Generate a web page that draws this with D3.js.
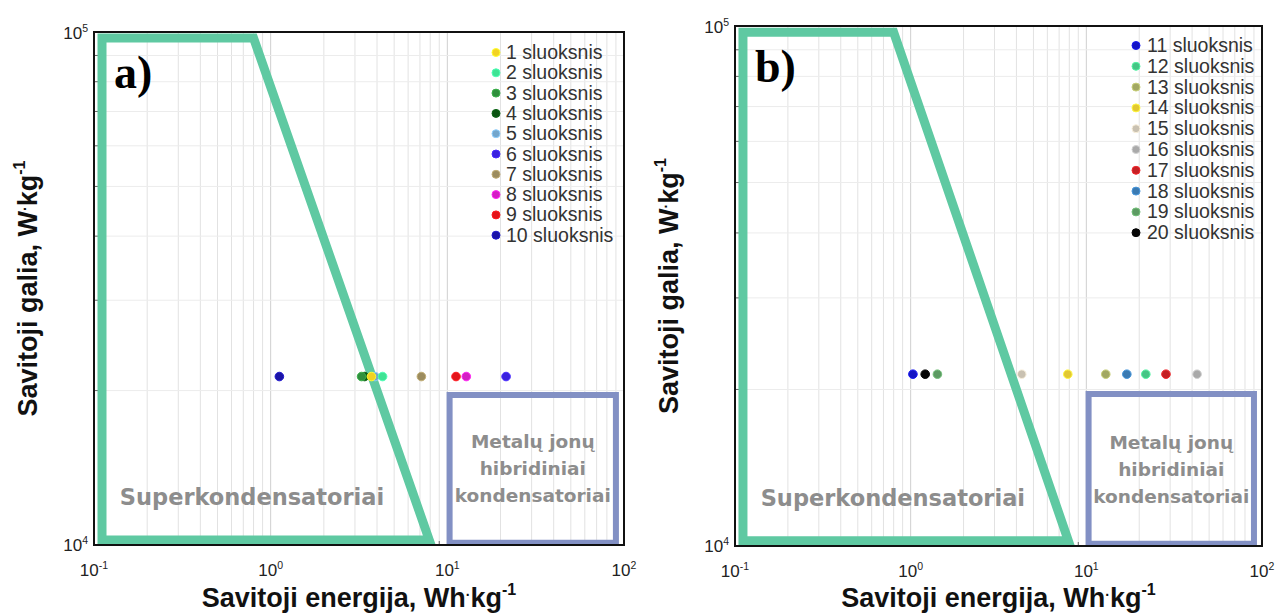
<!DOCTYPE html>
<html><head><meta charset="utf-8">
<script src="https://cdn.jsdelivr.net/npm/d3@7"></script>
<style>body{margin:0;background:#fff;}svg{display:block;}</style>
</head><body>
<svg id="c" width="1281" height="614"></svg>
<script>
// ---- data ----
const seriesA = ["1 sluoksnis","2 sluoksnis","3 sluoksnis","4 sluoksnis","5 sluoksnis","6 sluoksnis","7 sluoksnis","8 sluoksnis","9 sluoksnis","10 sluoksnis"];
const energyA = [3.72, 4.3, 3.27, 3.4, 3.9, 21.5, 7.13, 12.8, 11.2, 1.12];
const powerA  = [21300,21300,21300,21300,21300,21300,21300,21300,21300,21300];
const colorsA = ["#f2d224","#3fe394","#2f8f3c","#0c5413","#73a6cc","#3a22de","#9c8c5e","#d41ec4","#e3141a","#1b14a6"];

const seriesB = ["11 sluoksnis","12 sluoksnis","13 sluoksnis","14 sluoksnis","15 sluoksnis","16 sluoksnis","17 sluoksnis","18 sluoksnis","19 sluoksnis","20 sluoksnis"];
const energyB = [1.03, 21.8, 12.9, 7.84, 4.29, 42.7, 28.4, 17.0, 1.42, 1.21];
const powerB  = [21400,21400,21400,21400,21400,21400,21400,21400,21400,21400];
const colorsB = ["#1414c4","#45c585","#a2a862","#e2c832","#c9c1b1","#a9a9a9","#c42024","#3a7ab2","#5c9a62","#050505"];

// region outlines (data space)
const superE = [0.111, 0.80, 7.9, 0.111];
const superP = [97300, 97300, 10230, 10230];
const hybridE = [10.3, 90, 90, 10.3];
const hybridP = [19600, 19600, 10100, 10100];

const xTicks = [0.1, 1, 10, 100];
const xTickExp = ["-1","0","1","2"];
const yTicks = [10000, 100000];
const yTickExp = ["4","5"];

const xTitle = "Savitoji energija, Wh";
const yTitle = "Savitoji galia, W";
const superLabel = "Superkondensatoriai";
const hybridLabel = ["Metalų jonų","hibridiniai","kondensatoriai"];

const svg = d3.select("#c");

function panel(o){
  const g = svg.append("g");
  const x = d3.scaleLog().domain([0.1,100]).range([o.x0,o.x1]);
  const y = d3.scaleLog().domain([10000,100000]).range([o.y1,o.y0]);
  // grid
  const minorX = [];
  for (let d=0.1; d<100; d*=10) for (let k=2;k<=9;k++) minorX.push(d*k);
  g.selectAll(".gx").data(minorX).join("line")
    .attr("x1",d=>x(d)).attr("x2",d=>x(d)).attr("y1",o.y0).attr("y2",o.y1)
    .attr("stroke","#e2e2e2").attr("stroke-width",1);
  g.selectAll(".gX").data([1,10]).join("line")
    .attr("x1",d=>x(d)).attr("x2",d=>x(d)).attr("y1",o.y0).attr("y2",o.y1)
    .attr("stroke","#cfcfcf").attr("stroke-width",1);
  const minorY = d3.range(2,10).map(k=>k*10000);
  g.selectAll(".gy").data(minorY).join("line")
    .attr("y1",d=>y(d)).attr("y2",d=>y(d)).attr("x1",o.x0).attr("x2",o.x1)
    .attr("stroke","#ececec").attr("stroke-width",1);
  // minor ticks on axes
  g.selectAll(".tx").data(minorX).join("line")
    .attr("x1",d=>x(d)).attr("x2",d=>x(d)).attr("y1",o.y1).attr("y2",o.y1-4)
    .attr("stroke","#444").attr("stroke-width",0.8);
  g.selectAll(".ty").data(minorY).join("line")
    .attr("y1",d=>y(d)).attr("y2",d=>y(d)).attr("x1",o.x0).attr("x2",o.x0+4)
    .attr("stroke","#444").attr("stroke-width",0.8);

  // regions
  const line = d3.line().x(d=>x(d[0])).y(d=>y(d[1]));
  g.append("path").datum(d3.zip(hybridE,hybridP))
    .attr("d", d=>line(d)+"Z").attr("fill","none")
    .attr("stroke","#8290c4").attr("stroke-width",6).attr("stroke-linejoin","miter");
  g.append("path").datum(d3.zip(superE,superP))
    .attr("d", d=>line(d)+"Z").attr("fill","none")
    .attr("stroke","#5fc9a2").attr("stroke-width",9).attr("stroke-linejoin","miter");

  // region labels
  g.append("text").attr("x",x(0.14)).attr("y",o.y1-40)
    .attr("font-family","DejaVu Sans").attr("font-weight","bold").attr("font-size",22.5)
    .attr("fill","#8d8d8d").text(superLabel);
  const cx = (x(hybridE[0])+x(hybridE[1]))/2;
  g.selectAll(".hl").data(hybridLabel).join("text")
    .attr("x",cx).attr("y",(d,i)=>o.y1-97+i*27)
    .attr("text-anchor","middle").attr("font-family","DejaVu Sans").attr("font-weight","bold")
    .attr("font-size",18.5).attr("fill","#8d8d8d").text(d=>d);

  // points
  const idx = d3.range(o.energy.length).reverse();
  g.selectAll(".pt").data(idx).join("circle")
    .attr("cx",i=>x(o.energy[i])).attr("cy",i=>y(o.power[i])).attr("r",4.3)
    .attr("fill",i=>o.colors[i]).attr("stroke",i=>d3.color(o.colors[i]).brighter(0.6)).attr("stroke-width",1);

  // frame
  g.append("rect").attr("x",o.x0).attr("y",o.y0).attr("width",o.x1-o.x0).attr("height",o.y1-o.y0)
    .attr("fill","none").attr("stroke","#111").attr("stroke-width",2);

  // legend
  const lg = g.selectAll(".lg").data(o.series).join("g")
    .attr("transform",(d,i)=>`translate(${o.lx},${o.ly+i*o.lstep})`);
  lg.append("circle").attr("r",4).attr("cx",0).attr("cy",-6.5)
    .attr("fill",(d,i)=>o.colors[i]).attr("stroke",(d,i)=>d3.color(o.colors[i]).brighter(0.6)).attr("stroke-width",1);
  lg.append("text").attr("x",o.ltx).attr("y",0).attr("font-family","Liberation Sans, Arial")
    .attr("font-size",19.5).attr("fill","#333").text(d=>d);

  // panel label
  g.append("text").attr("x",o.x0+20).attr("y",o.y0+56).attr("font-family","Liberation Serif, Times New Roman")
    .attr("font-weight","bold").attr("font-size",46).attr("fill","#000").text(o.tag);

  // x tick labels
  const xl = g.selectAll(".xl").data(xTicks).join("text")
    .attr("x",d=>x(d)).attr("y",o.y1+31).attr("text-anchor","middle")
    .attr("font-family","Liberation Sans, Arial").attr("font-size",17).attr("fill","#222");
  xl.append("tspan").text("10");
  xl.append("tspan").attr("dy",-7).attr("font-size",10.5).text((d,i)=>xTickExp[i]);
  // y tick labels
  const yl = g.selectAll(".yl").data(yTicks).join("text")
    .attr("x",o.x0-6).attr("y",(d,i)=>y(d)+(i===0?6:7)).attr("text-anchor","end")
    .attr("font-family","Liberation Sans, Arial").attr("font-size",17).attr("fill","#222");
  yl.append("tspan").text("10");
  yl.append("tspan").attr("dy",-7).attr("font-size",10.5).text((d,i)=>yTickExp[i]);

  // axis titles
  const xt = g.append("text").attr("x",(o.x0+o.x1)/2).attr("y",607).attr("text-anchor","middle")
    .attr("font-family","Liberation Sans, Arial").attr("font-weight","bold").attr("font-size",27).attr("fill","#111");
  xt.append("tspan").text(xTitle);
  xt.append("tspan").attr("font-size",14).attr("dy",-7).text("·");
  xt.append("tspan").attr("dy",7).text("kg");
  xt.append("tspan").attr("font-size",16).attr("dy",-12).text("-1");
  const yt = g.append("text").attr("transform",`translate(${o.x0-57},${(o.y0+o.y1)/2}) rotate(-90)`)
    .attr("text-anchor","middle")
    .attr("font-family","Liberation Sans, Arial").attr("font-weight","bold").attr("font-size",27).attr("fill","#111");
  yt.append("tspan").text(yTitle);
  yt.append("tspan").attr("font-size",14).attr("dy",-7).text("·");
  yt.append("tspan").attr("dy",7).text("kg");
  yt.append("tspan").attr("font-size",16).attr("dy",-12).text("-1");
}

panel({x0:94,x1:624,y0:32,y1:545, energy:energyA, power:powerA, colors:colorsA, series:seriesA,
  lx:496, ltx:10, ly:59, lstep:20.3, tag:"a)"});
panel({x0:735,x1:1262,y0:26,y1:546, energy:energyB, power:powerB, colors:colorsB, series:seriesB,
  lx:1136, ltx:11, ly:52, lstep:20.8, tag:"b)"});
</script>
</body></html>
